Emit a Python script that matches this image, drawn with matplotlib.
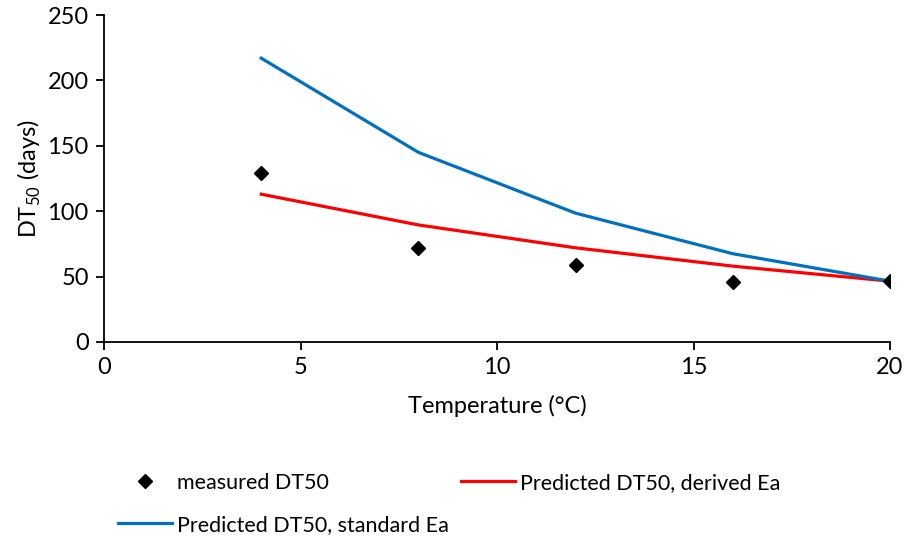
import matplotlib
matplotlib.use('Agg')
import matplotlib.pyplot as plt

plt.rcParams['font.family'] = ['Lato', 'DejaVu Sans']
plt.rcParams['mathtext.fontset'] = 'custom'
plt.rcParams['mathtext.rm'] = 'Lato'

temps = [4, 8, 12, 16, 20]
measured = [129, 72, 58.5, 46, 46.5]
pred_derived = [113, 89.5, 72, 58, 46.5]
pred_standard = [217, 145, 98.5, 67.5, 46.5]

W, H = 906, 541
fig = plt.figure(figsize=(W / 100, H / 100), dpi=100)
ax = fig.add_axes([104 / W, (H - 342) / H, 786 / W, 327 / H])

r, = ax.plot(temps, pred_derived, color='#ff0000', linewidth=2.3, label='Predicted DT50, derived Ea')
b, = ax.plot(temps, pred_standard, color='#0070c0', linewidth=2.3, label='Predicted DT50, standard Ea')
m, = ax.plot(temps, measured, 'D', color='black', markersize=7, linestyle='none',
             label='measured DT50', zorder=5)

ax.set_xlim(0, 20)
ax.set_ylim(0, 250)
ax.set_xticks([0, 5, 10, 15, 20])
ax.set_yticks([0, 50, 100, 150, 200, 250])
for s in ['top', 'right']:
    ax.spines[s].set_visible(False)
for s in ['left', 'bottom']:
    ax.spines[s].set_linewidth(1.3)
ax.tick_params(direction='out', length=6, width=1.3, labelsize=17, pad=5)
ax.set_xlabel('Temperature (°C)', fontsize=17, labelpad=12)
ax.set_ylabel(r'DT$_{50}$ (days)', fontsize=17, labelpad=3)

# legend entries placed one by one (left edge of handle, centre y in pixels)
fs = 15.5
hl = 54 / (fs * 100 / 72)
entries = [(m, 118, 483), (r, 461, 483), (b, 118, 525)]
for h, px, py in entries:
    leg = fig.legend(handles=[h], labels=[h.get_label()], loc='center left',
                     bbox_to_anchor=(px / W, (H - py) / H), bbox_transform=fig.transFigure,
                     frameon=False, fontsize=fs, handlelength=hl, handletextpad=0.25,
                     borderpad=0, borderaxespad=0)

fig.savefig('out.png', dpi=100)
